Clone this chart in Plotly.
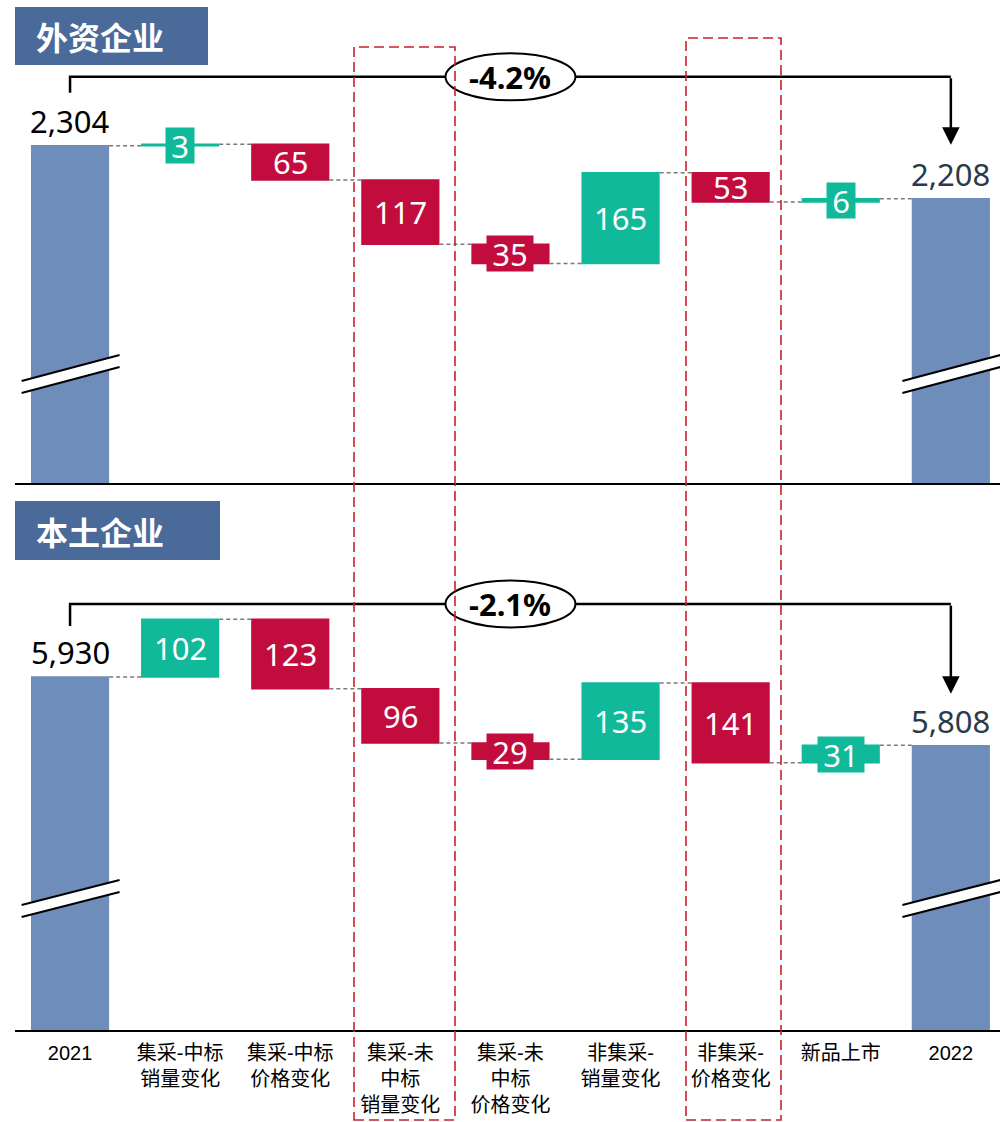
import plotly.graph_objects as go

# ---------------- data ----------------
categories = ["2021", "集采-中标<br>销量变化", "集采-中标<br>价格变化", "集采-未<br>中标<br>销量变化",
              "集采-未<br>中标<br>价格变化", "非集采-<br>销量变化", "非集采-<br>价格变化", "新品上市", "2022"]
foreign_start = 2304
foreign_changes = [3, -65, -117, -35, 165, -53, 6]
foreign_end = 2208
domestic_start = 5930
domestic_changes = [102, -123, -96, -29, 135, -141, 31]
domestic_end = 5808
panel_titles = ["外资企业", "本土企业"]

# ---------------- style ----------------
TEAL = "#10B99A"
RED = "#C20C3E"
TOTAL = "#6E8DBA"
TITLE_BG = "#4A6A99"
DASH_RED = "#CC1F2A"
NUM_FONT = "Noto Sans, Open Sans, sans-serif"
TICK_FONT = "Liberation Sans, Noto Sans CJK SC, sans-serif"
FIG_W, FIG_H = 1000, 1122
ML, MR, MT, MB = 15, 0, 0, 92
PLOT_H = FIG_H - MT - MB
PLOT_W = FIG_W - ML - MR
CAT_PX = 110.1
x_range = [-0.5, -0.5 + PLOT_W / CAT_PX]


def px2py(py):
    return (PLOT_H - (py - MT)) / PLOT_H


def px2px(px):
    return (px - ML) / PLOT_W


panels = [
    dict(start=foreign_start, changes=foreign_changes, end=foreign_end, title=panel_titles[0],
         xa="x", ya="y", dom=[px2py(483), 1.0], y0=1691, scale=0.55,
         level_px=69, tick_px=53, tip_px=54, title_box=(15, 208, 7, 65),
         brk=(381, 355, 393, 367), bottom_px=483, top_px=0),
    dict(start=domestic_start, changes=domestic_changes, end=domestic_end, title=panel_titles[1],
         xa="x2", ya="y2", dom=[0.0, px2py(500)], y0=5305, scale=0.565,
         level_px=73, tick_px=51, tip_px=52, title_box=(15, 220, 501, 560),
         brk=(905, 880, 917, 892), bottom_px=1030, top_px=500),
]

fig = go.Figure()
shapes = []
annotations = []

for i, p in enumerate(panels):
    xs = list(range(len(categories)))
    ys = [p["start"]] + p["changes"] + [p["end"]]
    measures = ["absolute"] + ["relative"] * len(p["changes"]) + ["absolute"]
    fig.add_trace(go.Waterfall(
        x=xs, y=ys, measure=measures, xaxis=p["xa"], yaxis=p["ya"],
        width=0.71,
        increasing=dict(marker=dict(color=TEAL, line=dict(width=0))),
        decreasing=dict(marker=dict(color=RED, line=dict(width=0))),
        totals=dict(marker=dict(color=TOTAL, line=dict(width=0))),
        connector=dict(mode="between", line=dict(color="#7a7a7a", width=1.5, dash="4px,3px")),
        textinfo="none", hoverinfo="skip", showlegend=False,
    ))
    dom_px = (p["dom"][1] - p["dom"][0]) * PLOT_H
    y1 = p["y0"] + dom_px / p["scale"]
    axn = "" if i == 0 else "2"
    fig.update_layout(**{
        f"xaxis{axn}": dict(domain=[0, 1], anchor=p["ya"], range=x_range, showgrid=False, zeroline=False,
                            showline=True, linecolor="black", linewidth=2, ticks="",
                            tickvals=xs, ticktext=categories, showticklabels=(i == 1),
                            tickfont=dict(family=TICK_FONT, size=20, color="black"),
                            ticklabelstandoff=4, fixedrange=True),
        f"yaxis{axn}": dict(domain=p["dom"], anchor=p["xa"], range=[p["y0"], y1], visible=False,
                            fixedrange=True),
    })
    xr, yr = p["xa"], p["ya"]
    sc = p["scale"]
    # change labels
    cum = p["start"]
    for k, v in enumerate(p["changes"]):
        mid = cum + v / 2
        cum += v
        txt = f"{abs(v)}"
        small = abs(v) * sc < 26
        ann = dict(x=k + 1, y=mid, xref=xr, yref=yr, text=txt, showarrow=False,
                   font=dict(family=NUM_FONT, size=31, color="white"),
                   xanchor="center", yanchor="middle")
        if small:
            ann.update(bgcolor=TEAL if v > 0 else RED, borderpad=0, height=35,
                       width=int(len(txt) * 17.7 + 11))
        annotations.append(ann)
    # total labels
    annotations.append(dict(x=0, y=p["start"], xref=xr, yref=yr, text=f"{p['start']:,}", showarrow=False,
                            font=dict(family=NUM_FONT, size=31, color="black"),
                            xanchor="center", yanchor="bottom", yshift=2))
    annotations.append(dict(x=len(categories) - 1, y=p["end"], xref=xr, yref=yr, text=f"{p['end']:,}",
                            showarrow=False, font=dict(family=NUM_FONT, size=31, color="#2B3A4A"),
                            xanchor="center", yanchor="bottom", yshift=2))
    # bracket + percentage ellipse
    level = p["start"] + p["level_px"] / sc
    tick_bottom = p["start"] + p["tick_px"] / sc
    tip = p["end"] + p["tip_px"] / sc
    last = len(categories) - 1
    shapes.append(dict(type="path", xref=xr, yref=yr,
                       path=f"M 0,{tick_bottom} L 0,{level} L {last},{level}",
                       line=dict(color="black", width=2.5)))
    annotations.append(dict(x=last, y=tip, ax=last, ay=level, xref=xr, yref=yr, axref=xr, ayref=yr,
                            text="", showarrow=True, arrowhead=2, arrowsize=1.4, arrowwidth=2.5,
                            arrowcolor="black", standoff=0, startstandoff=0))
    half_h = 23.5 / sc
    mid_x = (len(categories) - 1) / 2
    shapes.append(dict(type="circle", xref=xr, yref=yr, x0=mid_x - 0.59, x1=mid_x + 0.59,
                       y0=level - half_h, y1=level + half_h, fillcolor="white",
                       line=dict(color="black", width=2)))
    pct = (p["end"] - p["start"]) / p["start"] * 100
    annotations.append(dict(x=mid_x, y=level, xref=xr, yref=yr, text=f"<b>{pct:.1f}%</b>",
                            showarrow=False, font=dict(family=NUM_FONT, size=31, color="black"),
                            xanchor="center", yanchor="middle"))
    # axis-break marks on first and last bars
    bh = p["bottom_px"] - p["top_px"]
    ya_, yb_, yc_, yd_ = [(p["bottom_px"] - v) / bh for v in p["brk"]]
    ydr = f"{yr} domain"
    for cx in (0, last):
        xa0, xa1 = cx - 0.44, cx + 0.45
        shapes.append(dict(type="path", xref=xr, yref=ydr,
                           path=f"M {xa0},{ya_} L {xa1},{yb_} L {xa1},{yd_} L {xa0},{yc_} Z",
                           fillcolor="white", line=dict(width=0)))
        shapes.append(dict(type="line", xref=xr, yref=ydr, x0=xa0, y0=ya_, x1=xa1, y1=yb_,
                           line=dict(color="black", width=2)))
        shapes.append(dict(type="line", xref=xr, yref=ydr, x0=xa0, y0=yc_, x1=xa1, y1=yd_,
                           line=dict(color="black", width=2)))
    # title box
    bx0, bx1, by0, by1 = p["title_box"]
    shapes.append(dict(type="rect", xref="paper", yref="paper", x0=px2px(bx0), x1=px2px(bx1),
                       y0=px2py(by1), y1=px2py(by0), fillcolor=TITLE_BG, line=dict(width=0)))
    annotations.append(dict(x=px2px(34), y=px2py((by0 + by1) / 2), xref="paper", yref="paper",
                            text=f"<b>{p['title']}</b>", showarrow=False, xanchor="left", yanchor="middle",
                            font=dict(family="Noto Sans CJK SC", size=32, color="white")))

# red dashed highlight boxes
for (x0, x1, y0) in [(354, 455, 47), (686, 781, 38)]:
    shapes.append(dict(type="rect", xref="paper", yref="paper", x0=px2px(x0), x1=px2px(x1),
                       y0=px2py(1120), y1=px2py(y0), line=dict(color=DASH_RED, width=1.6, dash="10px,5px"),
                       fillcolor="rgba(0,0,0,0)"))

fig.update_layout(
    width=FIG_W, height=FIG_H, margin=dict(l=ML, r=MR, t=MT, b=MB),
    paper_bgcolor="white", plot_bgcolor="white", shapes=shapes, annotations=annotations,
    showlegend=False,
)
fig.write_html("out.html", config={"displayModeBar": False})
